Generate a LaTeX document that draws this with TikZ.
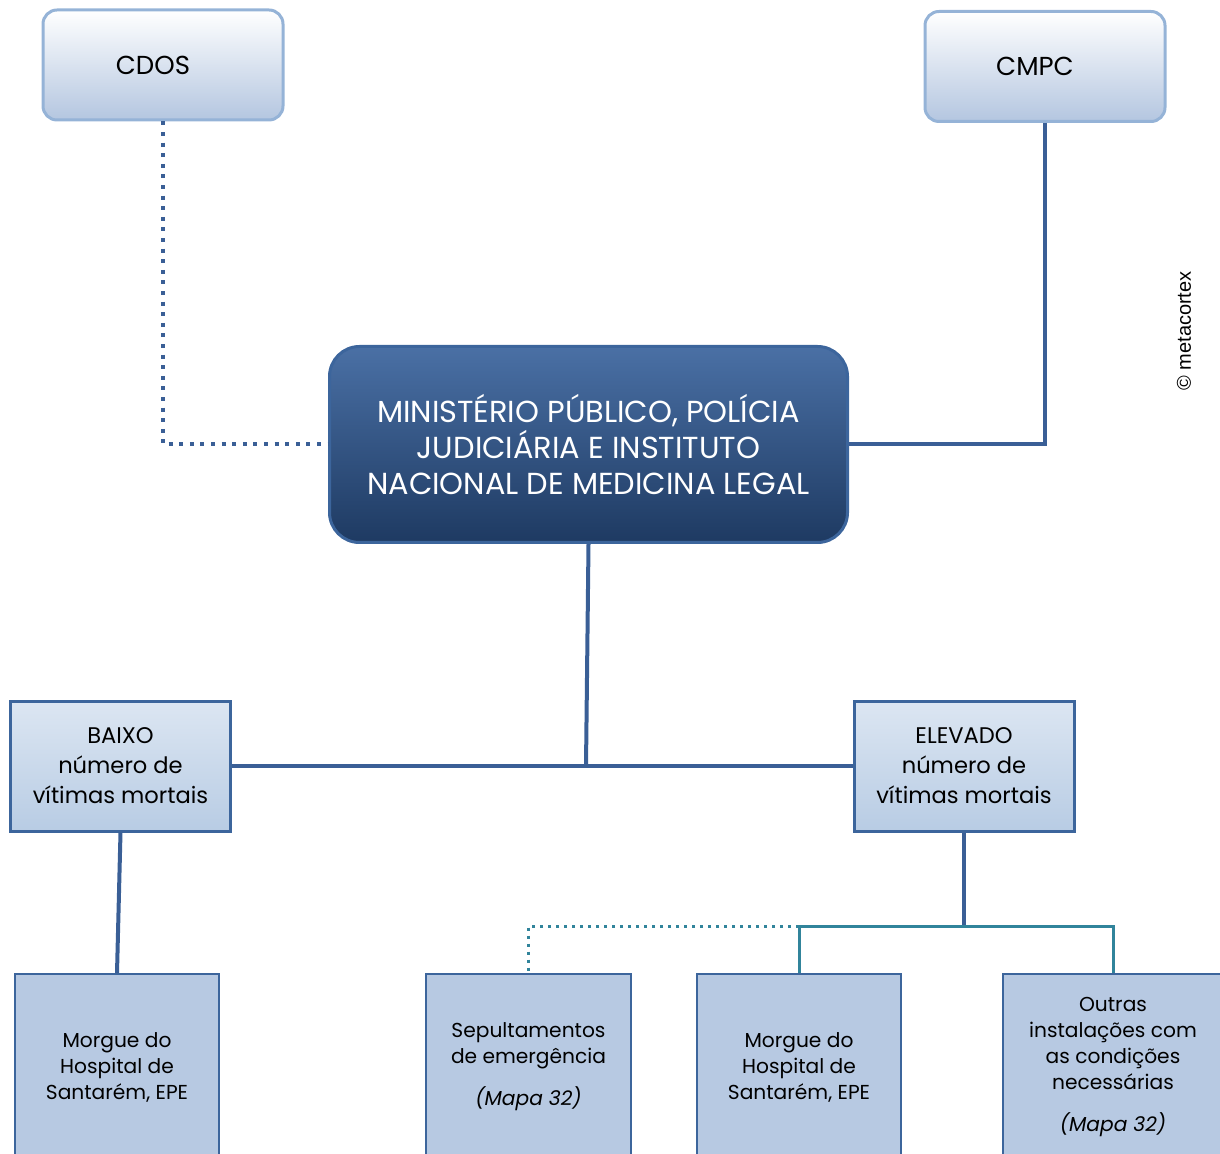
\documentclass[tikz,border=0pt]{standalone}
\usepackage{fontspec}
\setmainfont{Poppins}
\newfontfamily\arialfont{Liberation Sans}
\usetikzlibrary{positioning}
\definecolor{lightline}{HTML}{95B3D7}
\definecolor{lightfill}{HTML}{B4C6E0}
\definecolor{darkline}{HTML}{3A5F96}
\definecolor{maintop}{HTML}{4A70A5}
\definecolor{mainbot}{HTML}{1E3A62}
\definecolor{boxline}{HTML}{3C659C}
\definecolor{midtop}{HTML}{DCE6F2}
\definecolor{midbot}{HTML}{B8CCE4}
\definecolor{lowfill}{HTML}{B7C9E2}
\definecolor{tealline}{HTML}{31849B}
\tikzstyle{topbox} = [rectangle, rounded corners=7pt, minimum width=120pt, minimum height=55pt, inner sep=0pt, align=center, draw=lightline, line width=1.5pt, top color=white, bottom color=lightfill, font=\fontsize{13}{15}\selectfont]
\tikzstyle{mainbox} = [rectangle, rounded corners=15pt, minimum width=259pt, minimum height=98pt, inner sep=0pt, align=center, draw=boxline, line width=1.5pt, top color=maintop, bottom color=mainbot, text=white, font=\fontsize{15.2}{18}\selectfont]
\tikzstyle{levelbox} = [rectangle, minimum width=110pt, minimum height=65pt, inner sep=0pt, align=center, draw=boxline, line width=1.5pt, top color=midtop, bottom color=midbot, font=\fontsize{11.3}{15}\selectfont]
\tikzstyle{placebox} = [rectangle, minimum height=93pt, inner sep=0pt, align=center, draw=boxline, line width=1pt, fill=lowfill, font=\fontsize{10.1}{13}\selectfont]
\tikzstyle{line} = [darkline, line width=2pt]
\tikzstyle{dotline} = [darkline, line width=2pt, dash pattern=on 2pt off 3.3pt]
\tikzstyle{tline} = [tealline, line width=1.5pt]
\tikzstyle{tdotline} = [tealline, line width=1.5pt, dash pattern=on 1.5pt off 2.5pt]

\begin{document}
\begin{tikzpicture}[x=0.5pt, y=-0.5pt]
\useasboundingbox (0,0) rectangle (1220,1154);

\node (cdos) [topbox] at (163,65) {\hspace*{-10pt}CDOS};
\node (cmpc) [topbox] at (1045,66.5) {\hspace*{-10pt}CMPC};
\node (main) [mainbox] at (588.5,444.5) {MINISTÉRIO PÚBLICO, POLÍCIA\\JUDICIÁRIA E INSTITUTO\\NACIONAL DE MEDICINA LEGAL};
\node (baixo) [levelbox] at (120.5,766) {BAIXO\\número de\\vítimas mortais};
\node (elevado) [levelbox] at (964,766) {ELEVADO\\número de\\vítimas mortais};
\node (morgue1) [placebox, minimum width=102pt] at (117,1067) {Morgue do\\Hospital de\\Santarém, EPE};
\node (sepult) [placebox, minimum width=102.5pt] at (528.5,1067) {Sepultamentos\\de emergência\\[8pt]\textit{(Mapa 32)}};
\node (morgue2) [placebox, minimum width=102pt] at (799,1067) {Morgue do\\Hospital de\\Santarém, EPE};
\node (outras) [placebox, minimum width=110pt] at (1113,1067) {Outras\\instalações com\\as condições\\necessárias\\[8pt]\textit{(Mapa 32)}};
\node (copy) [rotate=90, font=\arialfont\fontsize{10}{12}\selectfont] at (1184,331) {© metacortex};

\coordinate (jn) at (586,766);
\coordinate (split) at (964,926);

\draw [dotline] (cdos.south) |- (main.west);
\draw [line] (cmpc.south) |- (main.east);
\draw [line] (main.south) -- (jn);
\draw [line] (baixo.east) -- (elevado.west);
\draw [line] (baixo.south) -- (morgue1.north);
\draw [line] (elevado.south) -- (split);
\draw [tline] (morgue2.north) |- (split) -| (outras.north);
\draw [tdotline] (morgue2.north |- split) -| (sepult.north);

\end{tikzpicture}
\end{document}
